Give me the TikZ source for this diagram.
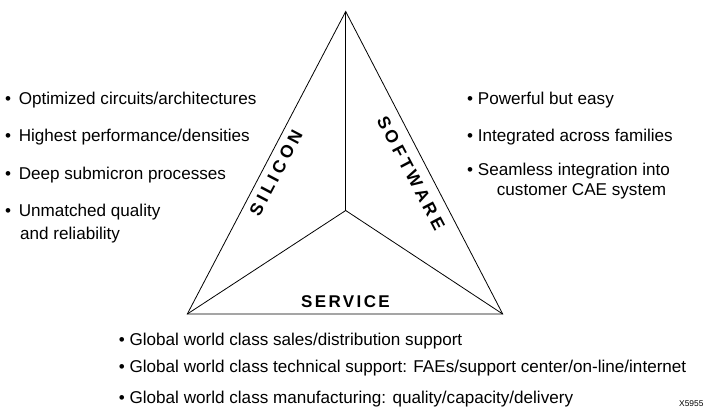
\documentclass[tikz,border=0pt]{standalone}
\usepackage{fontspec}
\setmainfont{Liberation Sans}
\newcommand{\itemfont}{\fontsize{17.1}{20}\selectfont}
\newcommand{\capfont}{\fontsize{17}{20}\selectfont\bfseries\addfontfeature{LetterSpace=14}}
\newcommand{\slantfont}{\fontsize{17.5}{20}\selectfont\bfseries\addfontfeature{LetterSpace=22}}
\newcommand{\tagfont}{\fontsize{8.4}{10}\selectfont}

\begin{document}
\begin{tikzpicture}[x=1pt,y=-1pt,
  item/.style={anchor=base west,inner sep=0pt,font=\itemfont},
  side/.style={inner sep=0pt,font=\capfont},
  slant/.style={inner sep=0pt,font=\slantfont},
  edge/.style={line width=0.8pt}]
\useasboundingbox (0,0) rectangle (704,408);
\coordinate (top) at (345.7,11.5);
\coordinate (left) at (187.3,314);
\coordinate (right) at (502.7,314);
\coordinate (centre) at (345.7,210.5);
\draw[edge] (top) -- (right) -- (left) -- cycle;
\draw[edge] (centre) -- (top);
\draw[edge] (centre) -- (left);
\draw[edge] (centre) -- (right);

\node[slant,rotate=62.2] (silicon) at (276,173) {SILICON};
\node[slant,rotate=-62.2] (software) at (411,173) {SOFTWARE};
\node[side] (service) at (345.5,301.5) {SERVICE};

\node[item] (si1) at (5,104) {•\, Optimized circuits/architectures};
\node[item] (si2) at (5,141) {•\, Highest performance/densities};
\node[item] (si3) at (5,179) {•\, Deep submicron processes};
\node[item] (si4) at (5,216) {•\, Unmatched quality};
\node[item] (si4b) at (20,239) {and reliability};

\node[item] (sw1) at (467,104) {• Powerful but easy};
\node[item] (sw2) at (467,141) {• Integrated across families};
\node[item] (sw3) at (467,175) {• Seamless integration into};
\node[item] (sw3b) at (496.7,195) {customer CAE system};

\node[item] (sv1) at (118.7,345) {• Global world class sales/distribution support};
\node[item] (sv2) at (118.7,372) {• Global world class technical support: FAEs/support center/on-line/internet};
\node[item] (sv3) at (118.7,403) {• Global world class manufacturing: quality/capacity/delivery};

\node[anchor=base west,inner sep=0pt,font=\tagfont] (tag) at (679,406) {X5955};
\end{tikzpicture}
\end{document}
